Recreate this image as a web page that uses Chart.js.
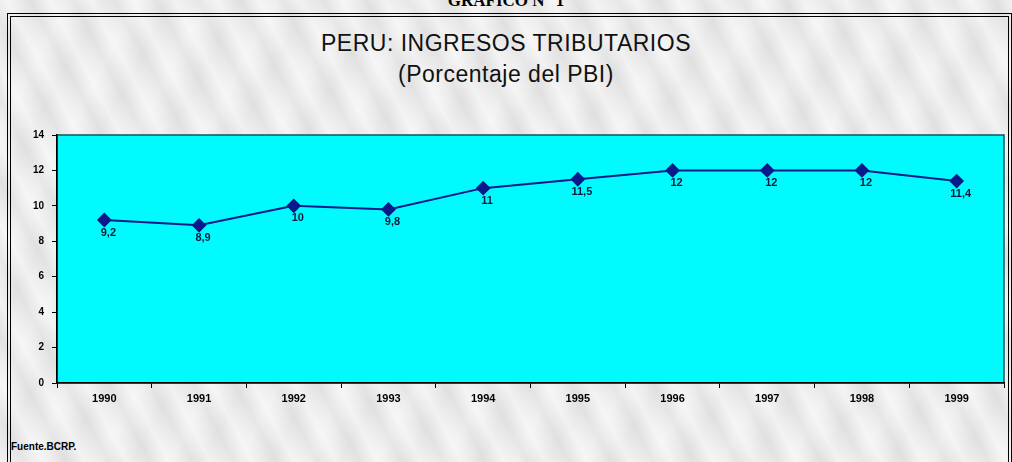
<!DOCTYPE html>
<html>
<head>
<meta charset="utf-8">
<script src="https://cdn.jsdelivr.net/npm/chart.js@4.4.0/dist/chart.umd.min.js"></script>
<style>
  html, body { margin: 0; padding: 0; }
  body {
    width: 1012px; height: 462px; overflow: hidden; position: relative;
    background-color: #ebebeb;
    background-image:
      repeating-linear-gradient(62deg, rgba(255,255,255,0.45) 0px, rgba(255,255,255,0.0) 13px, rgba(160,160,160,0.10) 22px, rgba(255,255,255,0.35) 37px),
      repeating-linear-gradient(118deg, rgba(255,255,255,0.25) 0px, rgba(190,190,190,0.10) 29px, rgba(255,255,255,0.25) 61px);
  }
  #wrap { position: absolute; left: 0; top: 0; width: 1012px; height: 462px; }
  .frame {
    position: absolute; left: 7px; top: 13px; width: 997px; height: 460px;
    border: 4px double #000; border-bottom: none;
  }
  .top-title {
    position: absolute; top: -9px; left: 0; width: 1012px; text-align: center;
    font: bold 17px "Liberation Serif", serif; color: #000;
  }
  .title {
    position: absolute; left: 0; width: 1012px; text-align: center;
    font-family: "Liberation Sans", Arial, sans-serif; font-size: 23px; color: #111;
    letter-spacing: 0.5px;
  }
  .source {
    position: absolute; left: 11px; top: 441px;
    font: bold 10px "Liberation Sans", Arial, sans-serif; color: #000;
  }
</style>
</head>
<body>
<div class="top-title">GRAFICO N° 1</div>
<div class="frame"></div>
<div class="title" style="top:30px">PERU: INGRESOS TRIBUTARIOS</div>
<div class="title" style="top:61px">(Porcentaje del PBI)</div>
<div class="source">Fuente.BCRP.</div>
<div id="wrap"><canvas id="c" width="1012" height="462"></canvas></div>
<script>
const years = ['1990', '1991', '1992', '1993', '1994', '1995', '1996', '1997', '1998', '1999'];
const ingresos = [9.2, 8.9, 10, 9.8, 11, 11.5, 12, 12, 12, 11.4];
const pointLabels = ['9,2', '8,9', '10', '9,8', '11', '11,5', '12', '12', '12', '11,4'];

// cyan plot background
const plotBg = {
  id: 'plotBg',
  beforeDraw(chart) {
    const { ctx, chartArea: a } = chart;
    ctx.save();
    ctx.fillStyle = '#00fbff';
    ctx.fillRect(a.left, a.top, a.right - a.left, a.bottom - a.top);
    ctx.strokeStyle = '#0a5a5a';
    ctx.lineWidth = 1.5;
    ctx.strokeRect(a.left, a.top, a.right - a.left, a.bottom - a.top);
    ctx.restore();
  }
};

// value labels under each point
const valueLabels = {
  id: 'valueLabels',
  afterDatasetsDraw(chart) {
    const { ctx } = chart;
    const meta = chart.getDatasetMeta(0);
    ctx.save();
    ctx.font = 'bold 11px "Liberation Sans", Arial, sans-serif';
    ctx.fillStyle = '#0b1a3a';
    ctx.textAlign = 'center';
    ctx.textBaseline = 'top';
    meta.data.forEach((pt, i) => {
      ctx.fillText(pointLabels[i], pt.x + 4, pt.y + 7);
    });
    ctx.restore();
  }
};

new Chart(document.getElementById('c').getContext('2d'), {
  type: 'line',
  data: {
    labels: years,
    datasets: [{
      data: ingresos,
      borderColor: '#0a1a8a',
      borderWidth: 2,
      tension: 0,
      pointStyle: 'rectRot',
      pointRadius: 6,
      pointBackgroundColor: '#0a1a8a',
      pointBorderColor: '#0a1a8a'
    }]
  },
  options: {
    responsive: false,
    animation: false,
    layout: { padding: { top: 135, left: 15, right: 8, bottom: 49 } },
    plugins: {
      legend: { display: false },
      tooltip: { enabled: false }
    },
    scales: {
      x: {
        offset: true,
        border: { color: '#000', width: 1.5 },
        grid: { drawOnChartArea: false, offset: true, tickLength: 5, color: '#000' },
        ticks: {
          color: '#000', padding: 4,
          font: { family: '"Liberation Sans", Arial, sans-serif', size: 11, weight: 'bold' }
        },
        afterFit(scale) { scale.height = 30; }
      },
      y: {
        min: 0, max: 14,
        border: { color: '#000', width: 1.5 },
        grid: { drawOnChartArea: false, tickLength: 5, color: '#000' },
        ticks: {
          stepSize: 2, color: '#000', padding: 8,
          font: { family: '"Liberation Sans", Arial, sans-serif', size: 10, weight: 'bold' }
        },
        afterFit(scale) { scale.width = 42; }
      }
    }
  },
  plugins: [plotBg, valueLabels]
});
</script>
</body>
</html>
